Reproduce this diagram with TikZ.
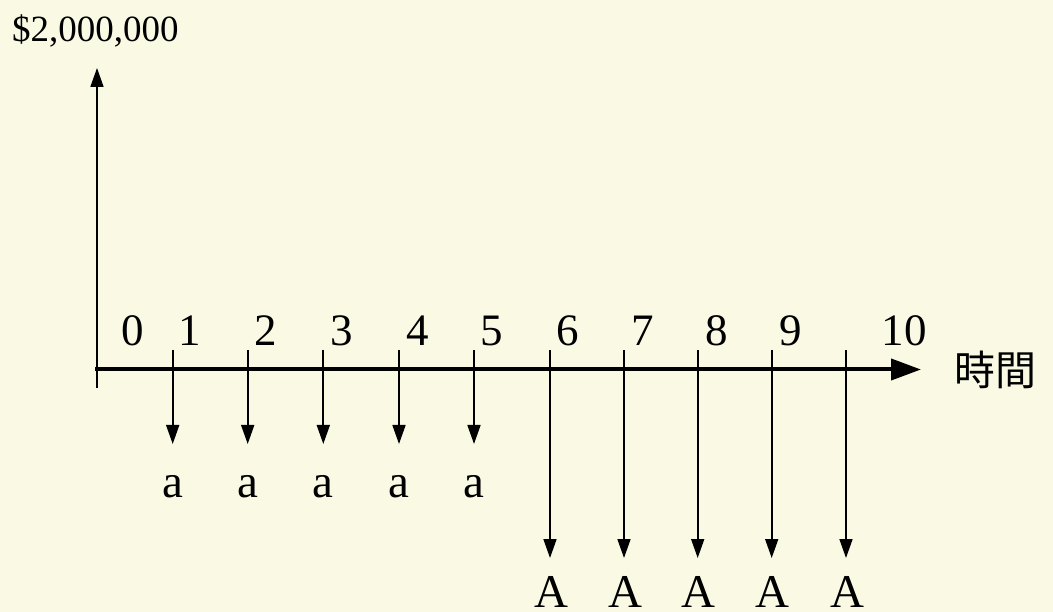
\documentclass[tikz,border=0pt]{standalone}
\usepackage{fontspec}
\setmainfont{Liberation Serif}
\newfontfamily\cjk{Noto Sans CJK TC}
\usetikzlibrary{arrows.meta}
\definecolor{bg}{RGB}{250,250,228}
\tikzset{
  small/.style={line width=1.7pt,-{Triangle[length=19pt,width=13pt]}},
  axisline/.style={line width=4pt,-{Triangle[length=30pt,width=21pt]}},
  yaxis/.style={line width=1.7pt,-{Triangle[length=19pt,width=13pt]}},
  num/.style={anchor=base,inner sep=0pt,font=\fontsize{45}{50}\selectfont},
  lab/.style={anchor=base,inner sep=0pt,font=\fontsize{47}{50}\selectfont}
}
\begin{document}
\begin{tikzpicture}[x=1pt,y=-1pt]
\fill[bg] (0,0) rectangle (1053,612);
\useasboundingbox (0,0) rectangle (1053,612);
% axes
\coordinate (ybot) at (97,388);
\coordinate (ytop) at (97,68);
\draw[yaxis] (ybot) -- (ytop);
\coordinate (xl) at (95,369.5);
\coordinate (xr) at (921,369.5);
\draw[axisline] (xl) -- (xr);
\node[anchor=base west,inner sep=0pt,font=\fontsize{37}{40}\selectfont] (money) at (12,42) {\$2,000,000};
\node[anchor=west,inner sep=0pt,font=\cjk\fontsize{41}{44}\selectfont] (time) at (954,370) {時間};
% tick labels
\node[num] (n0) at (133,346) {0};
\foreach \i/\x in {1/190,2/266,3/342,4/418,5/492,6/568,7/643,8/717,9/791,10/904}{
  \node[num] (n\i) at (\x,346) {\i};
}
% small arrows
\foreach \i/\x in {1/172.7,2/247.7,3/323.3,4/399,5/474}{
  \coordinate (s\i) at (\x,350);
  \coordinate (e\i) at (\x,444);
  \draw[small] (s\i) -- (e\i);
  \node[lab] (a\i) at (\x,497) {a};
}
% big arrows
\foreach \i/\x in {6/550,7/624,8/697.7,9/771.7,10/846}{
  \coordinate (s\i) at (\x,350);
  \coordinate (e\i) at (\x,558);
  \draw[small] (s\i) -- (e\i);
  \node[lab] (A\i) at (\x+1,607) {A};
}
\end{tikzpicture}
\end{document}
